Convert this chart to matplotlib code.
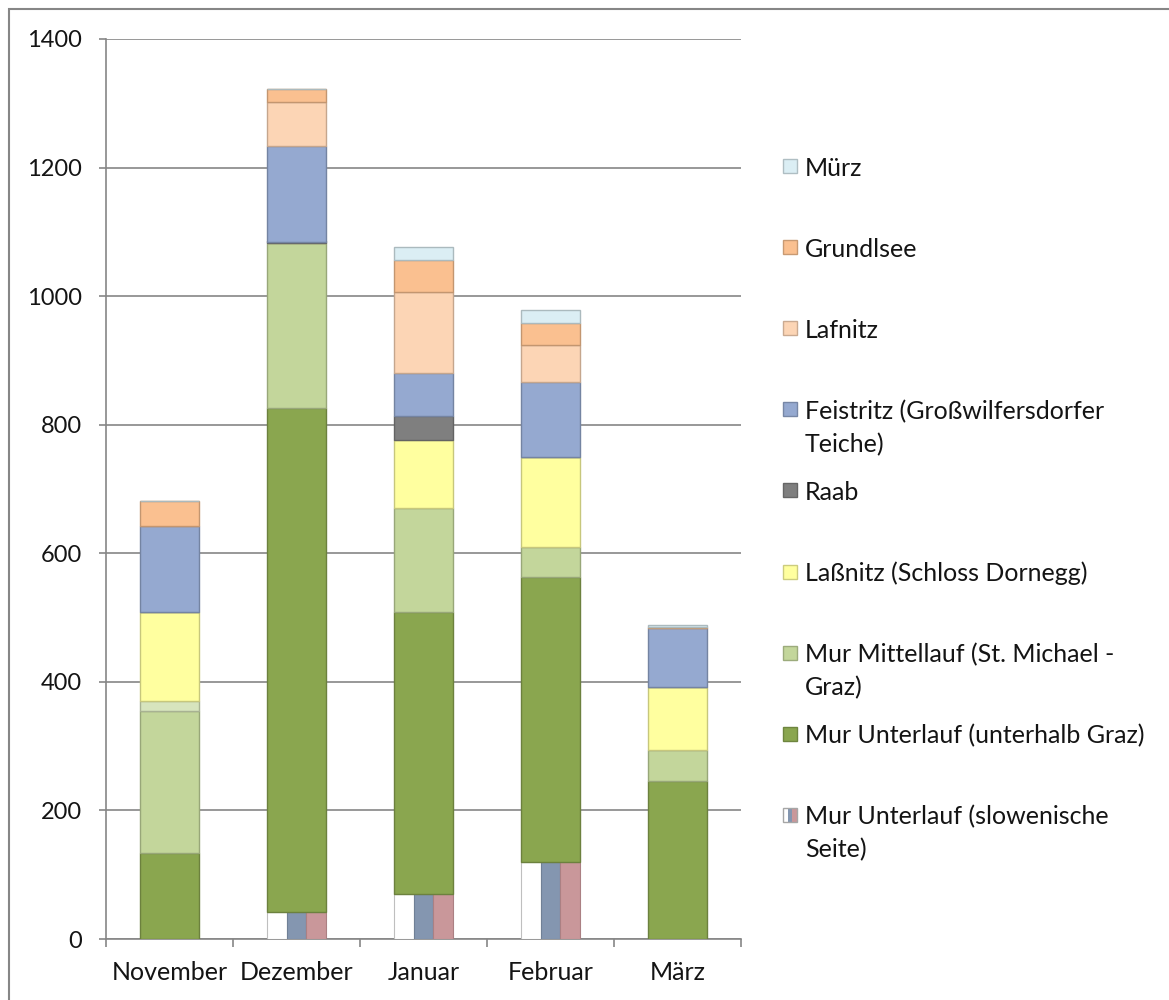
import matplotlib
matplotlib.use("Agg")
import matplotlib.pyplot as plt
from matplotlib.patches import Rectangle
import numpy as np

plt.rcParams['font.family'] = ['Lato', 'DejaVu Sans']

categories = ["November", "Dezember", "Januar", "Februar", "März"]

# stacked from bottom to top
slowenisch   = [0, 42, 70, 120, 0]
unterlauf    = [134, 784, 439, 443, 246]
mittellauf   = [221, 257, 161, 47, 48]
mittel_extra = [15, 0, 0, 0, 0]
lassnitz     = [139, 0, 106, 140, 98]
raab         = [0, 2, 38, 0, 0]
feistritz    = [134, 148, 66, 116, 92]
lafnitz      = [0, 69, 126, 58, 0]
grundlsee    = [39, 20, 50, 34, 2]
muerz        = [0, 0, 20, 20, 3]

stack_series = [
    ("Mur Unterlauf (unterhalb Graz)", unterlauf, "#8aa64f"),
    ("Mur Mittellauf (St. Michael -\nGraz)", mittellauf, "#c3d69b"),
    (None, mittel_extra, "#d7e4bd"),
    ("Laßnitz (Schloss Dornegg)", lassnitz, "#ffff9f"),
    ("Raab", raab, "#7f7f7f"),
    ("Feistritz (Großwilfersdorfer\nTeiche)", feistritz, "#95a9d0"),
    ("Lafnitz", lafnitz, "#fcd5b5"),
    ("Grundlsee", grundlsee, "#fac090"),
    ("Mürz", muerz, "#dbeef4"),
]
slo_label = "Mur Unterlauf (slowenische\nSeite)"
slo_colors = ["#ffffff", "#8496b0", "#c9979a"]

TXT = "#141414"

def darker(c, f=0.78):
    rgb = np.array(matplotlib.colors.to_rgb(c))
    return tuple(rgb * f)

W, H = 1169, 1000
fig = plt.figure(figsize=(W / 100, H / 100), dpi=100)
ax = fig.add_axes([106 / W, 61 / H, (741 - 106) / W, (939 - 39) / H])

x = np.arange(len(categories))
bw = 0.465
grid_c = "#868686"

# Slovenian part: three stripes
sw = bw / 3
for k, col in enumerate(slo_colors):
    ec = "#bfbfbf" if col == "#ffffff" else darker(col, 0.85)
    ax.bar(x - bw / 2 + sw * (k + 0.5), slowenisch, width=sw, color=col,
           edgecolor=ec, linewidth=0.8, zorder=3)

bottom = np.array(slowenisch, dtype=float)
for label, vals, col in stack_series:
    vals = np.array(vals, dtype=float)
    ax.bar(x, vals, width=bw, bottom=bottom, color=col,
           edgecolor=darker(col), linewidth=1.0, zorder=3)
    bottom = bottom + vals

ax.set_xlim(-0.5, len(categories) - 0.5)
ax.set_ylim(0, 1400)
ax.set_yticks(np.arange(0, 1401, 200))
ax.yaxis.grid(True, color=grid_c, linewidth=1.2, zorder=0)
ax.set_axisbelow(True)
for s in ["top", "right"]:
    ax.spines[s].set_visible(False)
for s in ["left", "bottom"]:
    ax.spines[s].set_color(grid_c)
    ax.spines[s].set_linewidth(1.2)

ax.tick_params(axis="y", direction="out", length=5, width=1.2, color=grid_c,
               pad=12.5, labelsize=17, labelcolor=TXT)
ax.set_xticks(np.arange(-0.5, len(categories), 1.0))
ax.set_xticklabels([])
ax.tick_params(axis="x", which="major", direction="out", length=5.5, width=1.2,
               color=grid_c)
ax.set_xticks(x, minor=True)
ax.set_xticklabels(categories, minor=True)
ax.tick_params(axis="x", which="minor", length=0, pad=16, labelsize=18,
               labelcolor=TXT)

# Legend (Excel style, evenly spaced entries, marker at first line)
legend_items = [(lab, col) for lab, _, col in stack_series if lab is not None][::-1]
legend_items.append((slo_label, None))
y0 = 166
step = 81.1
for i, (lab, col) in enumerate(legend_items):
    yc = y0 + i * step
    mx, ms = 783, 14
    if col is not None:
        fig.patches.append(Rectangle((mx / W, 1 - (yc + ms / 2) / H), ms / W, ms / H,
                                     transform=fig.transFigure, facecolor=col,
                                     edgecolor=darker(col, 0.8), linewidth=1.0))
    else:
        for k, c in enumerate(slo_colors):
            fig.patches.append(Rectangle(((mx + k * ms / 3) / W, 1 - (yc + ms / 2) / H),
                                         (ms / 3) / W, ms / H, transform=fig.transFigure,
                                         facecolor=c, edgecolor="none"))
        fig.patches.append(Rectangle((mx / W, 1 - (yc + ms / 2) / H), ms / W, ms / H,
                                     transform=fig.transFigure, facecolor="none",
                                     edgecolor="#a6a6a6", linewidth=1.0))
    for j, line in enumerate(lab.split("\n")):
        fig.text(805 / W, 1 - (yc + j * 33) / H, line, fontsize=18, color=TXT,
                 va="center_baseline", ha="left")

# outer chart border
fig.patches.append(Rectangle((9 / W, -0.05), 1.2, 1 - 9 / H + 0.05,
                             transform=fig.transFigure, facecolor="none",
                             edgecolor="#868686", linewidth=1.5))

fig.savefig("out.png", dpi=100)
